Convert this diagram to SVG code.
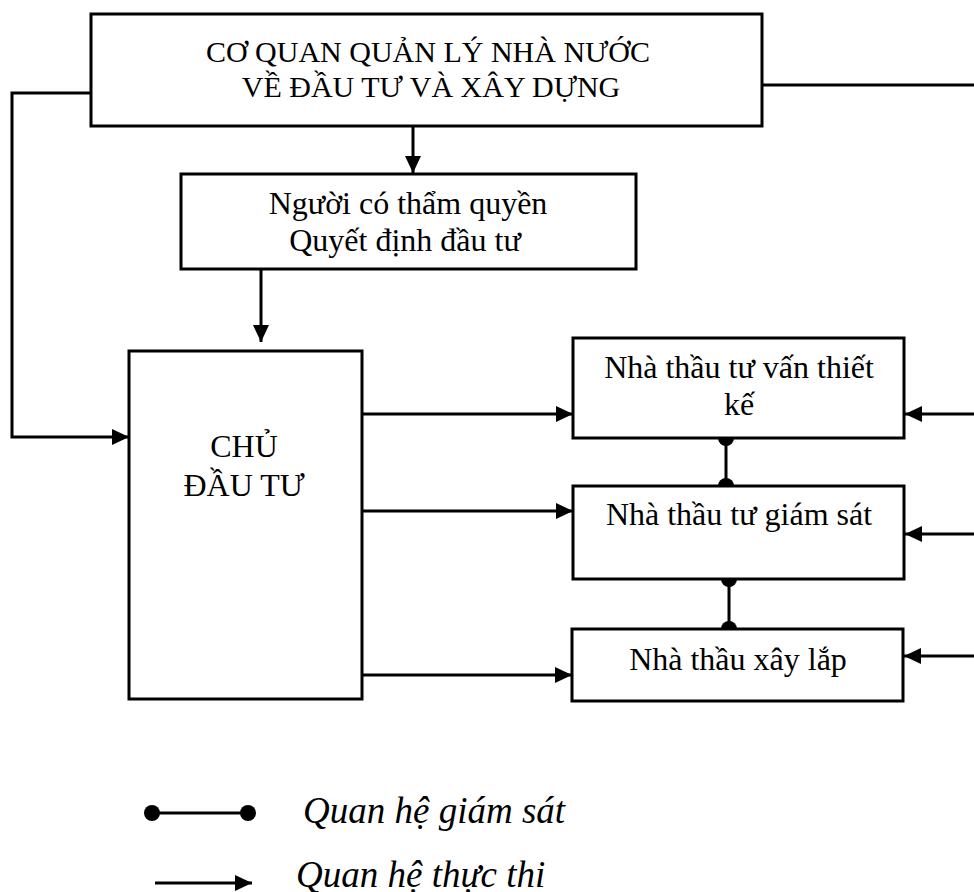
<svg xmlns="http://www.w3.org/2000/svg" width="974" height="892" viewBox="0 0 974 892">
<style>
.box{fill:#fff;stroke:#000;stroke-width:3}
.t{font-family:"Liberation Serif","Times New Roman",serif;font-size:32px;fill:#000;text-anchor:middle}
.tt{font-size:30px}
.lg{font-family:"Liberation Serif","Times New Roman",serif;font-size:37px;font-style:italic;fill:#000}
.c{fill:none;stroke:#000;stroke-width:3}
.a{marker-end:url(#arr)}
.d{marker-start:url(#dot);marker-end:url(#dot)}
</style>
<defs>
<marker id="arr" markerUnits="userSpaceOnUse" markerWidth="18" markerHeight="16" refX="17" refY="8" orient="auto" overflow="visible">
<path d="M0,0 L17,8 L0,16 Z" fill="#000"/>
</marker>
<marker id="dot" markerUnits="userSpaceOnUse" markerWidth="18" markerHeight="18" refX="9" refY="9" orient="auto" overflow="visible">
<circle cx="9" cy="9" r="8" fill="#000"/>
</marker>
</defs>
<rect width="974" height="892" fill="#fff"/>
<g id="connectors">
<path class="c a" d="M91,93 H12 V437 H129"/>
<path class="c" d="M762,85 H974"/>
<path class="c a" d="M413,126 V173"/>
<path class="c a" d="M261,269 V342"/>
<path class="c a" d="M362,414 H573"/>
<path class="c a" d="M362,511 H573"/>
<path class="c a" d="M362,675 H572"/>
<path class="c a" d="M974,414 H905"/>
<path class="c a" d="M974,534 H905"/>
<path class="c a" d="M974,656 H904"/>
<path class="c d" d="M726,438 V486"/>
<path class="c d" d="M729,579 V629"/>
</g>
<g id="node-co-quan">
<rect class="box" x="91" y="14" width="671" height="112"/>
<text class="t tt" x="428" y="62">CƠ QUAN QUẢN LÝ NHÀ NƯỚC</text>
<text class="t tt" x="431" y="97">VỀ ĐẦU TƯ VÀ XÂY DỰNG</text>
</g>
<g id="node-nguoi-co-tham-quyen">
<rect class="box" x="181" y="174" width="455" height="95"/>
<text class="t" x="408" y="214">Người có thẩm quyền</text>
<text class="t" x="405" y="251">Quyết định đầu tư</text>
</g>
<g id="node-chu-dau-tu">
<rect class="box" x="129" y="351" width="233" height="348"/>
<text class="t" x="244" y="457">CHỦ</text>
<text class="t" x="244" y="496">ĐẦU TƯ</text>
</g>
<g id="node-tu-van-thiet-ke">
<rect class="box" x="573" y="338" width="331" height="100"/>
<text class="t" x="739" y="378">Nhà thầu tư vấn thiết</text>
<text class="t" x="739" y="415">kế</text>
</g>
<g id="node-tu-giam-sat">
<rect class="box" x="573" y="486" width="331" height="93"/>
<text class="t" x="739" y="525">Nhà thầu tư giám sát</text>
</g>
<g id="node-xay-lap">
<rect class="box" x="572" y="629" width="331" height="72"/>
<text class="t" x="738" y="670">Nhà thầu xây lắp</text>
</g>
<g id="legend">
<path class="c d" d="M152,813 H248"/>
<text class="lg" x="303" y="823">Quan hệ giám sát</text>
<path class="c a" d="M155,883 H252"/>
<text class="lg" x="296" y="887">Quan hệ thực thi</text>
</g>
</svg>
